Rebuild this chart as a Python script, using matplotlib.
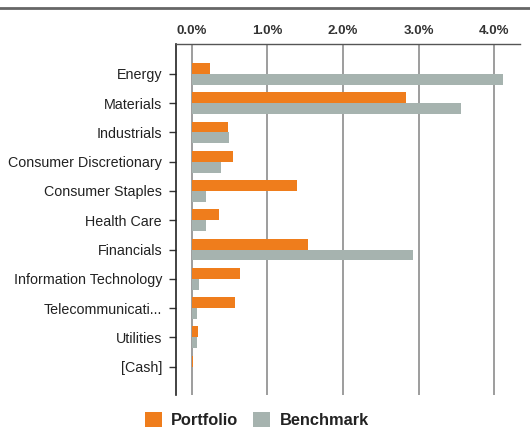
import matplotlib.pyplot as plt
import numpy as np
from matplotlib.lines import Line2D
from matplotlib.ticker import PercentFormatter

plt.rcParams["font.family"] = ["Liberation Sans", "DejaVu Sans"]

sectors = ["Energy", "Materials", "Industrials", "Consumer Discretionary",
           "Consumer Staples", "Health Care", "Financials",
           "Information Technology", "Telecommunicati...", "Utilities", "[Cash]"]
portfolio = [0.24, 2.83, 0.48, 0.54, 1.39, 0.36, 1.54, 0.64, 0.57, 0.08, 0.01]
benchmark = [4.12, 3.56, 0.49, 0.38, 0.19, 0.19, 2.93, 0.09, 0.07, 0.07, 0.0]
xticks = [0, 1, 2, 3, 4]

orange = "#ef7d1c"
grey = "#a6b3af"

fig = plt.figure(figsize=(5.3, 4.32), dpi=100)
ax = fig.add_axes([176 / 530, 1 - 395 / 432, (520 - 176) / 530, (395 - 44) / 432])

y = np.arange(len(sectors))
h = 0.37
ax.barh(y - h / 2, portfolio, height=h, color=orange, label="Portfolio", zorder=3)
ax.barh(y + h / 2, benchmark, height=h, color=grey, label="Benchmark", zorder=3)

ax.set_xlim(-0.21, 4.34)
ax.set_ylim(len(sectors) - 1 + 0.97, -1.02)
ax.set_yticks(y)
ax.set_yticklabels(sectors, fontsize=10.3, color="#222222")
ax.set_xticks(xticks)
ax.xaxis.set_major_formatter(PercentFormatter(decimals=1))
ax.xaxis.tick_top()
ax.tick_params(axis="x", length=0, pad=5, labelsize=9.5, labelcolor="#333333")
for t in ax.get_xticklabels():
    t.set_fontweight("bold")
ax.tick_params(axis="y", length=5, width=1, color="#333333", pad=5)
ax.grid(axis="x", color="#959595", linewidth=1.3, zorder=0)

for side in ["right", "bottom"]:
    ax.spines[side].set_visible(False)
ax.spines["left"].set_color("#222222")
ax.spines["left"].set_linewidth(1.2)
ax.spines["top"].set_color("#555555")
ax.spines["top"].set_linewidth(1.0)

fig.add_artist(Line2D([0, 1], [1 - 8 / 432, 1 - 8 / 432], color="#666666",
                      linewidth=2, transform=fig.transFigure))

leg = fig.legend(loc="center", bbox_to_anchor=(257 / 530, 1 - 420 / 432),
                 ncol=2, frameon=False, handlelength=1.0, handleheight=1.0,
                 handletextpad=0.6, columnspacing=0.9,
                 prop={"weight": "bold", "size": 11.8})
for t in leg.get_texts():
    t.set_color("#222222")

fig.savefig("out.png", dpi=100)
